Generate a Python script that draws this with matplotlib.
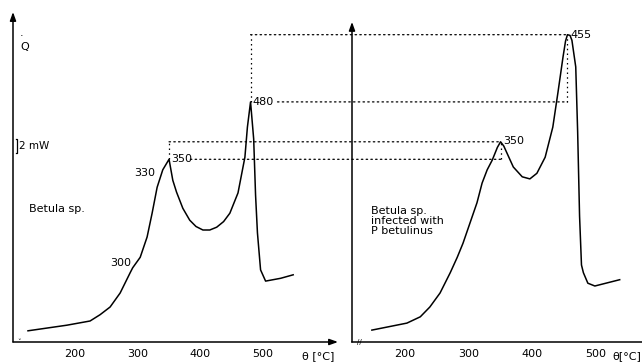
"""DSC curves of Betula sp. (sound vs. infected with P. betulinus)."""
import matplotlib
matplotlib.use("Agg")
import matplotlib.pyplot as plt
from matplotlib.patches import ConnectionPatch

# --- data (temperature in degC, heat flow in mW) ---
t_sound = [125, 187, 224, 240, 256, 272, 288, 292, 304, 315, 323, 331, 340, 350,
           356, 362, 372, 383, 393, 404, 415, 426, 437, 447, 460, 471, 475, 480,
           485, 488, 491, 496, 504, 528, 548]
q_sound = [1.6, 2.4, 3.0, 3.9, 5.0, 7.0, 9.9, 10.6, 12.1, 15.0, 18.4, 22.1, 24.6, 26.1,
           23.1, 21.4, 19.1, 17.4, 16.5, 16.0, 16.0, 16.4, 17.2, 18.4, 21.3, 26.4, 30.7, 34.3,
           29.0, 21.0, 15.6, 10.3, 8.7, 9.1, 9.6]

t_infected = [148, 203, 224, 239, 255, 271, 282, 291, 302, 313, 321, 329, 337, 345,
              350, 355, 360, 370, 384, 396, 407, 420, 432, 440, 448, 452, 455, 459,
              462, 468, 471, 474, 477, 480, 487, 498, 537]
q_infected = [1.7, 2.7, 3.6, 5.0, 7.0, 9.9, 12.1, 14.1, 17.0, 19.9, 22.7, 24.6, 26.0, 27.8,
              28.6, 28.0, 27.0, 25.0, 23.6, 23.3, 24.1, 26.4, 30.7, 35.6, 40.7, 43.0, 43.9, 43.8,
              43.1, 39.3, 30.0, 18.0, 11.0, 9.9, 8.4, 8.0, 8.9]

xticks = [200, 300, 400, 500]

# peak levels used by the dotted guide lines
qs350 = q_sound[t_sound.index(350)]
qs480 = q_sound[t_sound.index(480)]
qi350 = q_infected[t_infected.index(350)]
qi455 = q_infected[t_infected.index(455)]

W, H = 642, 362
fig = plt.figure(figsize=(W / 100, H / 100), dpi=100)
fig.patch.set_facecolor("white")

FS = 8
YMAX = 330 / 7.0  # 7 px per mW, axes 330 px tall

def px_axes(x0, x1, y_bottom=342, y_top=12):
    return fig.add_axes([x0 / W, (H - y_bottom) / H, (x1 - x0) / W,
                         (y_bottom - y_top) / H])

axL = px_axes(13, 338)
axR = px_axes(352, 642)
axL.set_xlim(101.1, 619.5)
axR.set_xlim(116.8, 572.0)

for ax in (axL, axR):
    ax.set_ylim(0, YMAX)
    for s in ax.spines.values():
        s.set_visible(False)
    ax.set_yticks([])
    ax.set_xticks(xticks)
    ax.set_xticklabels([str(t) for t in xticks], fontsize=FS)
    ax.tick_params(axis="x", length=0, pad=5)
    ax.patch.set_alpha(0)

# axes drawn as arrows
arrow_kw = dict(arrowstyle="-|>,head_length=0.5,head_width=0.18", color="black",
                lw=1.1, shrinkA=0, shrinkB=0)
axL.annotate("", xy=(0, 1.0), xytext=(0, 0), xycoords="axes fraction",
             arrowprops=arrow_kw, annotation_clip=False)
axL.annotate("", xy=(1.0, 0), xytext=(0, 0), xycoords="axes fraction",
             arrowprops=arrow_kw, annotation_clip=False)
axR.annotate("", xy=(0, 0.97), xytext=(0, 0), xycoords="axes fraction",
             arrowprops=arrow_kw, annotation_clip=False)
axR.plot([0, 1], [0, 0], color="black", lw=1.1, transform=axR.transAxes,
         clip_on=False)

# axis break marks near the origin
axL.text(0.02, 0.0, "\u02c5", transform=axL.transAxes, fontsize=5,
         ha="center", va="center")
axR.text(0.025, 0.0, "//", transform=axR.transAxes, fontsize=5,
         ha="center", va="center")

# curves
axL.plot(t_sound, q_sound, color="black", lw=1.1, solid_joinstyle="round")
axR.plot(t_infected, q_infected, color="black", lw=1.1, solid_joinstyle="round")

# axis titles
axL.text(562, -0.042, "\u03b8 [\u00b0C]", transform=axL.get_xaxis_transform(),
         fontsize=FS, va="center", ha="left")
axR.text(525, -0.042, "\u03b8[\u00b0C]", transform=axR.get_xaxis_transform(),
         fontsize=FS, va="center", ha="left")
axL.text(113, 42.2, "Q", fontsize=FS, ha="left", va="center")
axL.text(115.5, 44.2, ".", fontsize=FS, ha="center", va="center")

# 2 mW scale bar
axL.plot([106.5, 108, 108, 106.5], [27, 27, 29, 29], color="black", lw=0.9)
axL.text(110, 28, "2 mW", fontsize=FS - 0.5, ha="left", va="center")

# sample names
axL.text(127, 19.0, "Betula sp.", fontsize=FS, ha="left", va="center")
axR.text(146, 19.5, "Betula sp.\ninfected with\nP betulinus", fontsize=FS,
         ha="left", va="top", linespacing=1.0)

# temperature marks on the curves
axL.text(289, 11.3, "300", fontsize=FS, ha="right", va="center")
axL.text(328, 24.1, "330", fontsize=FS, ha="right", va="center")
axL.annotate("350", xy=(350, qs350), xytext=(1.5, 0), textcoords="offset points",
             fontsize=FS, ha="left", va="center")
axL.annotate("480", xy=(480, qs480), xytext=(1.5, 0), textcoords="offset points",
             fontsize=FS, ha="left", va="center")
axR.annotate("350", xy=(350, qi350), xytext=(2, 0.5), textcoords="offset points",
             fontsize=FS, ha="left", va="center")
axR.annotate("455", xy=(455, qi455), xytext=(2, 0), textcoords="offset points",
             fontsize=FS, ha="left", va="center")

# dotted guide lines linking peak heights
dot = dict(color="black", lw=0.9, linestyle=(0, (1.2, 2.6)))

def link(ta, tb, q):
    con = ConnectionPatch(xyA=(ta, q), coordsA=axL.transData,
                          xyB=(tb, q), coordsB=axR.transData, **dot)
    fig.add_artist(con)

link(480, 455, qi455)
link(523, 455, qs480)
link(350, 350, qi350)
link(384, 350, qs350)
axL.plot([480, 480], [qs480, qi455], **dot)
axL.plot([350, 350], [qs350, qi350], **dot)
axR.plot([455, 455], [qs480, qi455], **dot)
axR.plot([350, 350], [qs350, qi350], **dot)

fig.savefig("out.png", dpi=100, facecolor="white")
